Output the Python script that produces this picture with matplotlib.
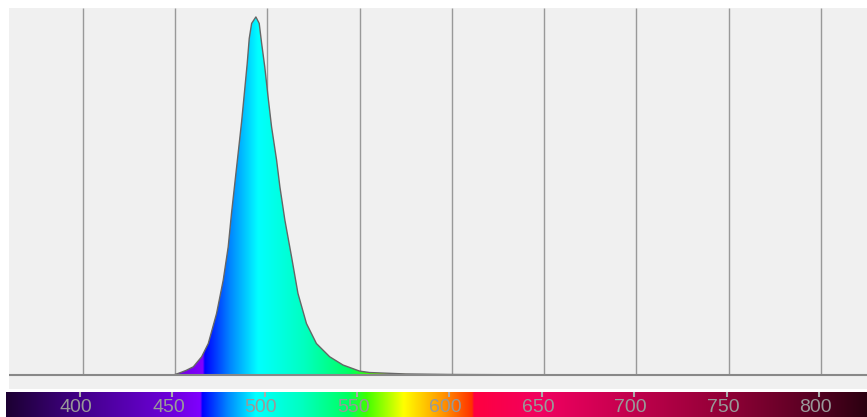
import numpy as np
import matplotlib
matplotlib.use("Agg")
import matplotlib.pyplot as plt
from matplotlib.colors import LinearSegmentedColormap

# emission spectrum (relative intensity)
wavelength = [440, 449.1, 452.7, 456.0, 459.9, 464.4, 468.0, 472.5, 476.1, 478.8,
              480.6, 482.4, 484.2, 486.1, 487.8, 489.1, 490.2, 491.5, 493.8,
              495.6, 496.9, 498.6, 500.4, 502.3, 505.0, 506.8, 509.5, 513.1,
              516.6, 521.2, 526.6, 533.8, 541.0, 550.0, 555.4, 575, 600, 650,
              700, 825]
intensity = [0.0, 0.0, 0.0064, 0.013, 0.023, 0.051, 0.088, 0.172, 0.265, 0.358,
             0.452, 0.536, 0.620, 0.709, 0.800, 0.870, 0.940, 0.982, 1.0,
             0.982, 0.927, 0.861, 0.777, 0.693, 0.601, 0.526, 0.433, 0.331,
             0.228, 0.144, 0.088, 0.051, 0.028, 0.011, 0.007, 0.003, 0.0015,
             0.0005, 0.0, 0.0]

ticks = [400, 450, 500, 550, 600, 650, 700, 750, 800]

# wavelength -> colour stops of the spectrum strip
stop_nm = [360, 400, 450, 465, 466, 480, 495, 520, 545, 555, 575, 597, 612, 613,
           650, 700, 750, 800, 826]
stop_col = ["#1c0032", "#420088", "#6e00dc", "#8000ff", "#0000ff", "#0088ff",
            "#00ffff", "#00ffc0", "#00ff60", "#40ff00", "#ffff00", "#ff9000",
            "#ff3000", "#ff0040", "#f00060", "#c0004c", "#900036", "#520020",
            "#2a0010"]

xmin, xmax = 360, 825
cmap = LinearSegmentedColormap.from_list(
    "spec", [((n - stop_nm[0]) / (stop_nm[-1] - stop_nm[0]), c)
             for n, c in zip(stop_nm, stop_col)], N=1024)

fig = plt.figure(figsize=(8.67, 4.17), dpi=100)
W, H = 867.0, 417.0

# ---------- spectrum ----------
ax = fig.add_axes([9 / W, (H - 389) / H, (W - 9) / W, 381 / H])
ax.set_facecolor("#f0f0f0")
ax.set_xlim(xmin, xmax)
ytop, ybot = 1.025, -0.039
ax.set_ylim(ybot, ytop)
for s in ax.spines.values():
    s.set_visible(False)
ax.set_xticks([])
ax.set_yticks([])

ax.vlines(ticks, 0, ytop, color="#999999", lw=1.0, zorder=1)

grad = np.linspace(stop_nm[0], stop_nm[-1], 1024).reshape(1, -1)
img = ax.imshow(grad, cmap=cmap, aspect="auto", zorder=2,
                extent=[stop_nm[0], stop_nm[-1], 0, ytop], interpolation="bilinear")
poly = ax.fill_between(wavelength, 0, intensity, color="none", lw=0)
img.set_clip_path(poly.get_paths()[0], transform=ax.transData)
ax.plot(wavelength, intensity, color="#666666", lw=1.0, zorder=3)
ax.axhline(0, color="#888888", lw=1.5, zorder=3)

# ---------- colour strip ----------
cax = fig.add_axes([5 / W, 0, (W - 5) / W, 25 / H])
cax.imshow(grad, cmap=cmap, aspect="auto",
           extent=[stop_nm[0], stop_nm[-1], 0, 1], interpolation="bilinear")
cax.set_xlim(359.5, 826)
cax.set_ylim(0, 1)
for s in cax.spines.values():
    s.set_visible(False)
cax.set_xticks([])
cax.set_yticks([])
cax.vlines(ticks, 0.82, 1.0, color="#aaaaaa", lw=1.5)
for t in ticks:
    cax.text(t - 2, 0.02, str(t), color="#999999", fontsize=14,
             family="Liberation Sans", ha="center", va="bottom")

fig.savefig("out.png", dpi=100)
